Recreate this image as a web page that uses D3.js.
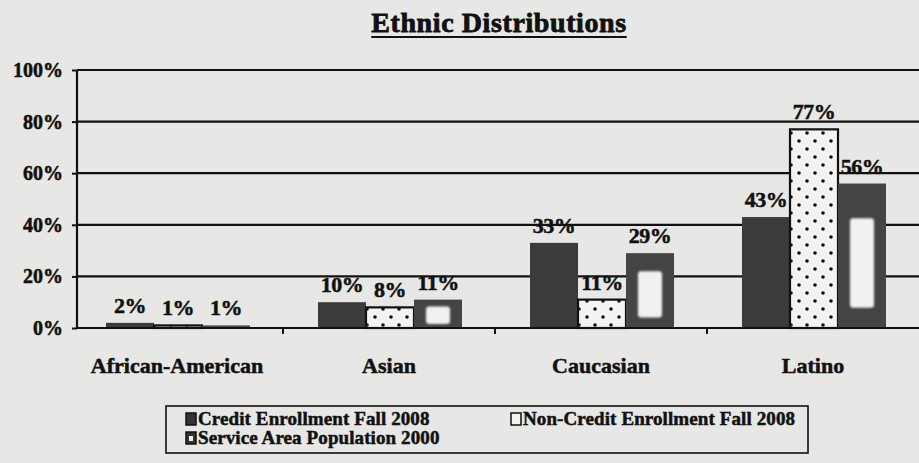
<!DOCTYPE html>
<html>
<head>
<meta charset="utf-8">
<script src="https://cdn.jsdelivr.net/npm/d3@7"></script>
<style>
  html, body { margin: 0; padding: 0; background: #e7e7e5; }
  svg { display: block; }
  text { font-family: "Liberation Serif", "Times New Roman", serif; font-weight: bold; fill: #111;
         stroke: #111; stroke-width: 0.5px; paint-order: stroke; }
</style>
</head>
<body>
<svg id="chart" width="919" height="463"></svg>
<script>
// Ethnic distribution of enrollment vs. service area population
const categories = ["African-American", "Asian", "Caucasian", "Latino"];
const seriesNames = ["Credit Enrollment Fall 2008", "Non-Credit Enrollment Fall 2008", "Service Area Population 2000"];
const creditValues = [2, 10, 33, 43];
const nonCreditValues = [1, 8, 11, 77];
const serviceValues = [1, 11, 29, 56];
const yTicks = [0, 20, 40, 60, 80, 100];

const seriesValues = [creditValues, nonCreditValues, serviceValues];
const rows = categories.map((c, i) => ({
  category: c,
  values: seriesNames.map((s, j) => ({ series: s, idx: j, value: seriesValues[j][i] }))
}));

const svg = d3.select("#chart");
const W = 919, H = 463;
const axisX = 77;

const x0 = d3.scaleBand().domain(categories).range([71, 919]).padding(0);
const x1 = d3.scaleBand().domain(seriesNames).range([35, 179]).padding(0);
const y = d3.scaleLinear().domain([0, 100]).range([328, 70]);

// patterns
const defs = svg.append("defs");
const dots = defs.append("pattern").attr("id", "dots")
  .attr("patternUnits", "userSpaceOnUse").attr("width", 16).attr("height", 16);
dots.append("rect").attr("width", 16).attr("height", 16).attr("fill", "#f3f3f1");
dots.append("circle").attr("cx", 4).attr("cy", 5).attr("r", 1.8).attr("fill", "#111");
dots.append("circle").attr("cx", 12).attr("cy", 13).attr("r", 1.8).attr("fill", "#111");

const soft = defs.append("filter").attr("id", "soft");
soft.append("feGaussianBlur").attr("stdDeviation", 0.8);

// title
const title = svg.append("text")
  .attr("x", 499).attr("y", 32)
  .attr("text-anchor", "middle")
  .style("font-size", "28px")
  .style("letter-spacing", "0.6px")
  .style("stroke-width", "0.8px")
  .text("Ethnic Distributions");
const tl = title.node().getComputedTextLength();
svg.append("line")
  .attr("x1", 499 - tl / 2).attr("x2", 499 + tl / 2)
  .attr("y1", 37).attr("y2", 37)
  .attr("stroke", "#111").attr("stroke-width", 2.2);

// gridlines
svg.append("g").selectAll("line").data(yTicks.filter(d => d > 0)).join("line")
  .attr("x1", axisX).attr("x2", W)
  .attr("y1", d => y(d)).attr("y2", d => y(d))
  .attr("stroke", "#111").attr("stroke-width", 2.2);

// y axis
const yAxis = svg.append("g").attr("transform", `translate(${axisX},0)`)
  .call(d3.axisLeft(y).tickValues(yTicks).tickSize(5).tickFormat(d => d + "%"));
yAxis.select(".domain").attr("stroke", "#111").attr("stroke-width", 2.2)
  .attr("d", `M0,${y(100)}V${y(0)}`);
yAxis.selectAll(".tick line").attr("stroke", "#111").attr("stroke-width", 2);
yAxis.selectAll(".tick text")
  .attr("x", -14)
  .style("font-size", "20px")
  .style("font-family", "'Liberation Serif', serif")
  .style("font-weight", "bold")
  .attr("fill", "#111");

// bars
const groups = svg.append("g").selectAll("g").data(rows).join("g")
  .attr("transform", d => `translate(${x0(d.category)},0)`);

groups.selectAll("rect.bar").data(d => d.values).join("rect")
  .attr("class", "bar")
  .attr("x", d => x1(d.series))
  .attr("y", d => y(d.value))
  .attr("width", x1.bandwidth())
  .attr("height", d => y(0) - y(d.value))
  .attr("fill", d => d.idx === 1 ? "url(#dots)" : (d.idx === 0 ? "#3b3b3b" : "#444"))
  .attr("stroke", d => d.idx === 1 ? "#111" : "none")
  .attr("stroke-width", 2.2);

// light inner panel on the service-area bars
groups.selectAll("rect.inner").data(d => d.values.filter(v => v.idx === 2 && (y(0) - y(v.value)) > 12)).join("rect")
  .attr("class", "inner")
  .attr("x", d => x1(d.series) + 12)
  .attr("width", x1.bandwidth() - 24)
  .attr("y", d => y(d.value) + 0.24 * (y(0) - y(d.value)))
  .attr("height", d => 0.62 * (y(0) - y(d.value)))
  .attr("rx", 3)
  .attr("fill", "#f1f1ef")
  .attr("filter", "url(#soft)");

// value labels
groups.selectAll("text.val").data(d => d.values).join("text")
  .attr("class", "val")
  .attr("x", d => x1(d.series) + x1.bandwidth() / 2)
  .attr("y", d => y(d.value) - 10)
  .attr("text-anchor", "middle")
  .style("font-size", "22px")
  .style("letter-spacing", "-0.5px")
  .text(d => d.value + "%");

// baseline and category ticks
svg.append("line").attr("x1", axisX).attr("x2", W)
  .attr("y1", y(0)).attr("y2", y(0))
  .attr("stroke", "#111").attr("stroke-width", 2.2);
svg.append("g").selectAll("line").data(categories.slice(1)).join("line")
  .attr("x1", d => x0(d)).attr("x2", d => x0(d))
  .attr("y1", y(0)).attr("y2", y(0) + 6)
  .attr("stroke", "#111").attr("stroke-width", 2);

// category labels
svg.append("g").selectAll("text").data(categories).join("text")
  .attr("x", d => x0(d) + x0.bandwidth() / 2)
  .attr("y", 373)
  .attr("text-anchor", "middle")
  .style("font-size", "22px")
  .text(d => d);

// legend
const legend = svg.append("g");
legend.append("rect")
  .attr("x", 166).attr("y", 406).attr("width", 642).attr("height", 47)
  .attr("fill", "none").attr("stroke", "#111").attr("stroke-width", 1.6);
const legendPos = [[186, 425], [511, 425], [186, 444]];
const legendItems = legend.selectAll("g").data(seriesNames).join("g")
  .attr("transform", (d, i) => `translate(${legendPos[i][0]},${legendPos[i][1]})`);
legendItems.append("rect")
  .attr("x", 0).attr("y", -12).attr("width", 10).attr("height", 12)
  .attr("fill", (d, i) => i === 1 ? "#f3f3f1" : "#333")
  .attr("stroke", "#111").attr("stroke-width", 1.5);
legendItems.filter((d, i) => i === 2).append("rect")
  .attr("x", 3).attr("y", -8).attr("width", 4).attr("height", 5)
  .attr("fill", "#eee");
legendItems.append("text")
  .attr("x", 12).attr("y", 0)
  .style("font-size", "19px")
  .style("letter-spacing", "0.1px")
  .text(d => d);
</script>
</body>
</html>
